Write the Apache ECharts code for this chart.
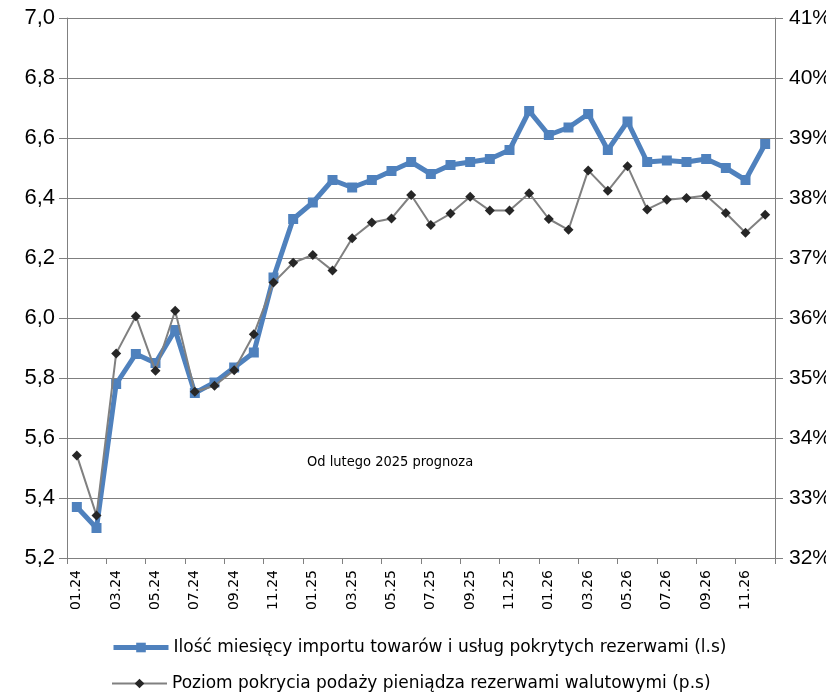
<!DOCTYPE html>
<html><head><meta charset="utf-8">
<script src="https://cdn.jsdelivr.net/npm/echarts@6/dist/echarts.min.js"></script>
<style>html,body{margin:0;padding:0;background:#fff}#c{width:826px;height:694px}</style>
</head><body><div id="c"></div>
<script>
const categories = ['01.24','02.24','03.24','04.24','05.24','06.24','07.24','08.24','09.24','10.24','11.24','12.24',
'01.25','02.25','03.25','04.25','05.25','06.25','07.25','08.25','09.25','10.25','11.25','12.25',
'01.26','02.26','03.26','04.26','05.26','06.26','07.26','08.26','09.26','10.26','11.26','12.26'];
const importMonths = [5.37,5.30,5.78,5.88,5.85,5.96,5.75,5.785,5.835,5.885,6.135,6.33,
6.385,6.46,6.435,6.46,6.49,6.52,6.48,6.51,6.52,6.53,6.56,6.69,
6.61,6.635,6.68,6.56,6.655,6.52,6.525,6.52,6.53,6.50,6.46,6.58];
const moneyCoverage = [33.71,32.71,35.41,36.03,35.12,36.12,34.77,34.87,35.13,35.73,36.59,36.92,
37.05,36.79,37.33,37.59,37.66,38.05,37.55,37.74,38.02,37.79,37.79,38.08,
37.65,37.47,38.46,38.12,38.53,37.81,37.97,38.00,38.04,37.75,37.42,37.72];
const seriesNames = ['Ilość miesięcy importu towarów i usług pokrytych rezerwami (l.s)',
'Poziom pokrycia podaży pieniądza rezerwami walutowymi (p.s)'];
const note = 'Od lutego 2025 prognoza';

const legendText = {fontFamily:'DejaVu Sans',fontSize:17,color:'#000'};
const chart = echarts.init(document.getElementById('c'));
chart.setOption({
  animation:false,
  backgroundColor:'#fff',
  grid:{left:67,right:51,top:18,bottom:136,containLabel:false,outerBoundsMode:'none'},
  legend:[
    {orient:'horizontal', left:106, top:634, itemWidth:55, itemHeight:12, textStyle:legendText,
     lineStyle:{width:5}, data:[seriesNames[0]]},
    {orient:'horizontal', left:106, top:670, itemWidth:55, itemHeight:12, textStyle:legendText,
     lineStyle:{width:2}, data:[seriesNames[1]]}
  ],
  graphic:[{type:'text',left:307,top:455,style:{text:note,font:'14.5px "DejaVu Sans Condensed"',fill:'#000'}}],
  xAxis:{
    type:'category', data:categories, boundaryGap:true,
    axisLine:{lineStyle:{color:'#808080',width:1}},
    axisTick:{show:true,interval:1,length:6,lineStyle:{color:'#808080'}},
    axisLabel:{interval:1,rotate:90,fontFamily:'DejaVu Sans',fontSize:14,color:'#000',margin:12},
    splitLine:{show:false}
  },
  yAxis:[{
    type:'value', min:5.2, max:7.0, interval:0.2, position:'left',
    axisLine:{show:true,lineStyle:{color:'#808080'}},
    axisTick:{show:true,inside:false,length:8,lineStyle:{color:'#808080'}},
    axisLabel:{fontFamily:'Liberation Sans',fontSize:22,color:'#000',margin:12,
      formatter:v=>v.toFixed(1).replace('.',',')},
    splitLine:{show:true,lineStyle:{color:'#7f7f7f',width:1}}
  },{
    type:'value', min:32, max:41, interval:1, position:'right',
    axisLine:{show:true,lineStyle:{color:'#808080'}},
    axisTick:{show:true,inside:false,length:8,lineStyle:{color:'#808080'}},
    axisLabel:{fontFamily:'Liberation Sans',fontSize:21,color:'#000',margin:14,
      formatter:v=>v+'%'},
    splitLine:{show:false}
  }],
  series:[{
    name:seriesNames[0], type:'line', yAxisIndex:0, data:importMonths,
    symbol:'rect', symbolSize:10, showAllSymbol:true,
    lineStyle:{color:'#4f81bd',width:5},
    itemStyle:{color:'#4f81bd'}, z:2
  },{
    name:seriesNames[1], type:'line', yAxisIndex:1, data:moneyCoverage,
    symbol:'diamond', symbolSize:10, showAllSymbol:true,
    lineStyle:{color:'#808080',width:2},
    itemStyle:{color:'#262626'}, z:3
  }]
});
</script></body></html>
